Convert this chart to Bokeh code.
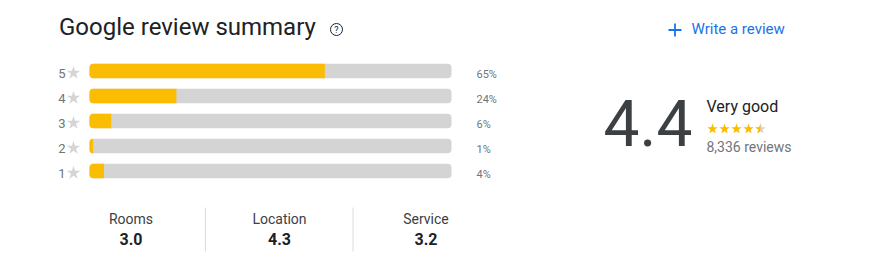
import math
from bokeh.plotting import figure
from bokeh.models import Range1d, ColumnDataSource
from bokeh.core.properties import value
from bokeh.embed import file_html
from bokeh.resources import INLINE

# ---- data ----
star_levels = [5, 4, 3, 2, 1]
star_pcts = [65, 24, 6, 1, 4]
pct_labels = ["65%", "24%", "6%", "1%", "4%"]
overall_rating = 4.4
rating_word = "Very good"
review_count_label = "8,336 reviews"
aspects = ["Rooms", "Location", "Service"]
aspect_scores = [3.0, 4.3, 3.2]

title_text = "Google review summary"
action_text = "Write a review"

# ---- style ----
ORANGE = "#fbbc04"
GRAY_BAR = "#d4d4d4"
GRAY_STAR = "#d5d5d5"
DARK = "#202124"
MID = "#3c4043"
LIGHT = "#70757a"
BLUE = "#1a73e8"
DIVIDER = "#dadce0"
FONT = "Roboto"

W, H = 870, 265
p = figure(width=W, height=H, x_range=Range1d(0, W), y_range=Range1d(H, 0),
           output_backend="svg", toolbar_location=None, min_border=0)
p.axis.visible = False
p.grid.visible = False
p.outline_line_color = None
p.background_fill_color = "white"
p.border_fill_color = "white"


def bl(y, fs):
    # place text so that its alphabetic baseline lands at pixel y
    return y - 0.38 * fs


# bar scales: 0..100 % spans pixels 89..451 ; star rows centred 25 px apart
bar_x0, bar_x1 = 89.0, 451.0
ppu = (bar_x1 - bar_x0) / 100.0
p.extra_x_ranges = {"pct": Range1d(-bar_x0 / ppu, (W - bar_x0) / ppu)}
row5_y, row_gap = 70.5, 25.0
p.extra_y_ranges = {"star": Range1d(5 - (H - row5_y) / row_gap, 5 + row5_y / row_gap)}

src = ColumnDataSource(dict(star=star_levels, pct=star_pcts, full=[100] * 5,
                            icon_y=[s - 2.0 / row_gap for s in star_levels],
                            lab=[str(s) for s in star_levels], plab=pct_labels))

p.hbar(y="star", left=0, right="full", height=0.58, source=src,
       x_range_name="pct", y_range_name="star", fill_color=GRAY_BAR,
       line_color=None, border_radius=4)
p.hbar(y="star", left=0, right="pct", height=0.58, source=src,
       x_range_name="pct", y_range_name="star", fill_color=ORANGE,
       line_color=None, border_radius=(4, 0, 0, 4))

# digit labels + gray stars (positioned with pixel x, star-scale y)
p.text(x=61.5, y="star", text="lab", source=src, y_range_name="star",
       text_font=value(FONT), text_font_size="13px", text_color=LIGHT,
       text_align="center", text_baseline="middle", y_offset=2)
p.scatter(x=73, y="icon_y", source=src, y_range_name="star", marker="star",
          size=14, fill_color=GRAY_STAR, line_color=None)
p.text(x=476, y="star", text="plab", source=src, y_range_name="star",
       text_font=value(FONT), text_font_size="11px", text_color=LIGHT,
       text_align="left", text_baseline="middle", y_offset=3)

# title and help icon
p.text(x=[58.5], y=[bl(35.5, 24)], text=[title_text], text_font=value(FONT),
       text_font_size="24px", text_color=DARK, text_baseline="alphabetic")
p.scatter(x=[336], y=[29], marker="circle", size=12, fill_color=None,
          line_color=DARK, line_width=1)
p.text(x=[336], y=[29.5], text=["?"], text_font=value(FONT),
       text_font_size="9px", text_color=DARK, text_align="center",
       text_baseline="middle")

# write a review
p.scatter(x=[674.5], y=[29.5], marker="cross", size=13, line_color=BLUE,
          line_width=1.8)
p.text(x=[691], y=[bl(34, 15)], text=[action_text], text_font=value(FONT),
       text_font_size="15px", text_color=BLUE, text_baseline="alphabetic")

# overall score
p.text(x=[647.5], y=[bl(147.3, 64)], text=[f"{overall_rating:.1f}"], text_font=value(FONT),
       text_font_size="64px", text_color=MID, text_align="center",
       text_baseline="alphabetic")
p.text(x=[706], y=[bl(112.3, 16)], text=[rating_word], text_font=value(FONT),
       text_font_size="16px", text_color=DARK, text_baseline="alphabetic")
p.text(x=[706], y=[bl(151.7, 14)], text=[review_count_label], text_font=value(FONT),
       text_font_size="14px", text_color=LIGHT, text_baseline="alphabetic")

# rating stars (rounded to half), drawn as star polygons
def star_poly(cx, cy, R, half=False):
    r = R * 0.42
    n = 6 if half else 10
    xs, ys = [], []
    for k in range(n):
        ang = math.radians(90 + 36 * k)
        rad = R if k % 2 == 0 else r
        xs.append(cx + rad * math.cos(ang))
        ys.append(cy - rad * math.sin(ang))
    return xs, ys

shown = round(overall_rating * 2) / 2
sx0, sgap, sy, sR = 712.0, 12.0, 128.5, 5.4
full_xs, full_ys, gray_xs, gray_ys, half_xs, half_ys = [], [], [], [], [], []
for i in range(5):
    cx = sx0 + i * sgap
    if i + 1 <= shown:
        a, b = star_poly(cx, sy, sR); full_xs.append(a); full_ys.append(b)
    else:
        a, b = star_poly(cx, sy, sR); gray_xs.append(a); gray_ys.append(b)
        if i + 0.5 <= shown:
            a, b = star_poly(cx, sy, sR, half=True); half_xs.append(a); half_ys.append(b)
p.patches(full_xs, full_ys, fill_color=ORANGE, line_color=None)
if gray_xs:
    p.patches(gray_xs, gray_ys, fill_color=GRAY_STAR, line_color=None)
if half_xs:
    p.patches(half_xs, half_ys, fill_color=ORANGE, line_color=None)

# aspects
col_x = [130.5, 279, 425.5]
asrc = ColumnDataSource(dict(x=col_x, name=aspects,
                             score=[f"{v:.1f}" for v in aspect_scores]))
p.text(x="x", y=bl(224, 14), text="name", source=asrc, text_font=value(FONT),
       text_font_size="14px", text_color=MID, text_align="center",
       text_baseline="alphabetic")
p.text(x="x", y=bl(245, 16), text="score", source=asrc, text_font=value(FONT),
       text_font_size="16px", text_font_style="bold", text_color=DARK,
       text_align="center", text_baseline="alphabetic")
p.segment(x0=[205, 352.5], y0=[207, 207], x1=[205, 352.5], y1=[251, 251],
          line_color=DIVIDER, line_width=1)

open("out.html", "w").write(file_html(p, INLINE))
